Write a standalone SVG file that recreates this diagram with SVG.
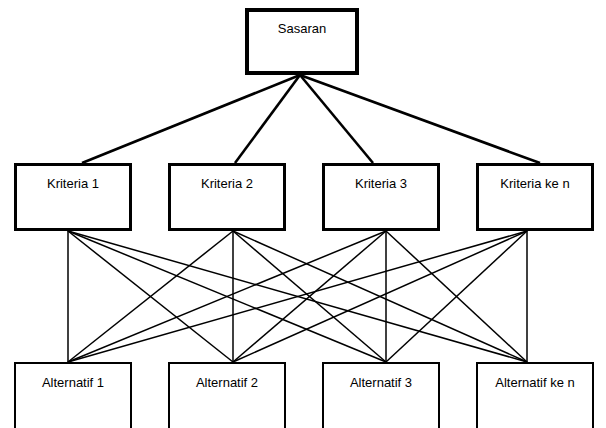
<svg xmlns="http://www.w3.org/2000/svg" width="606" height="428" viewBox="0 0 606 428">
<style>
.box{fill:#fff;stroke:#000}
.t{font-family:"Liberation Sans",Arial,sans-serif;font-size:13px;fill:#000;text-anchor:middle}
.top{stroke:#000;stroke-width:2.6;fill:none}
.mid{stroke:#000;stroke-width:1.5;fill:none}
</style>
<rect width="606" height="428" fill="#fff"/>
<g id="connectors">
<g class="top">
<line x1="300" y1="75" x2="82" y2="163"/>
<line x1="300" y1="75" x2="235" y2="163"/>
<line x1="300" y1="75" x2="373" y2="163"/>
<line x1="300" y1="75" x2="540" y2="163"/>
</g>
<g class="mid">
<line x1="68" y1="231" x2="68" y2="362"/>
<line x1="68" y1="231" x2="233" y2="362"/>
<line x1="68" y1="231" x2="386" y2="362"/>
<line x1="68" y1="231" x2="527" y2="362"/>
<line x1="233" y1="231" x2="68" y2="362"/>
<line x1="233" y1="231" x2="233" y2="362"/>
<line x1="233" y1="231" x2="386" y2="362"/>
<line x1="233" y1="231" x2="527" y2="362"/>
<line x1="386" y1="231" x2="68" y2="362"/>
<line x1="386" y1="231" x2="233" y2="362"/>
<line x1="386" y1="231" x2="386" y2="362"/>
<line x1="386" y1="231" x2="527" y2="362"/>
<line x1="527" y1="231" x2="68" y2="362"/>
<line x1="527" y1="231" x2="233" y2="362"/>
<line x1="527" y1="231" x2="386" y2="362"/>
<line x1="527" y1="231" x2="527" y2="362"/>
</g>
</g>
<g id="sasaran">
<rect class="box" x="247" y="10" width="110" height="63" stroke-width="4"/>
<text class="t" x="302" y="33">Sasaran</text>
</g>
<g id="kriteria1">
<rect class="box" x="15.5" y="164.5" width="115" height="65" stroke-width="3"/>
<text class="t" x="73" y="188">Kriteria 1</text>
</g>
<g id="kriteria2">
<rect class="box" x="169.5" y="164.5" width="115" height="65" stroke-width="3"/>
<text class="t" x="227" y="188">Kriteria 2</text>
</g>
<g id="kriteria3">
<rect class="box" x="323.5" y="164.5" width="115" height="65" stroke-width="3"/>
<text class="t" x="381" y="188">Kriteria 3</text>
</g>
<g id="kriteria4">
<rect class="box" x="477.5" y="164.5" width="115" height="65" stroke-width="3"/>
<text class="t" x="535" y="188">Kriteria ke n</text>
</g>
<g id="alternatif1">
<rect class="box" x="15" y="363" width="116" height="80" stroke-width="2"/>
<text class="t" x="73" y="387">Alternatif 1</text>
</g>
<g id="alternatif2">
<rect class="box" x="169" y="363" width="116" height="80" stroke-width="2"/>
<text class="t" x="227" y="387">Alternatif 2</text>
</g>
<g id="alternatif3">
<rect class="box" x="323" y="363" width="116" height="80" stroke-width="2"/>
<text class="t" x="381" y="387">Alternatif 3</text>
</g>
<g id="alternatif4">
<rect class="box" x="477" y="363" width="116" height="80" stroke-width="2"/>
<text class="t" x="535" y="387">Alternatif ke n</text>
</g>
</svg>
